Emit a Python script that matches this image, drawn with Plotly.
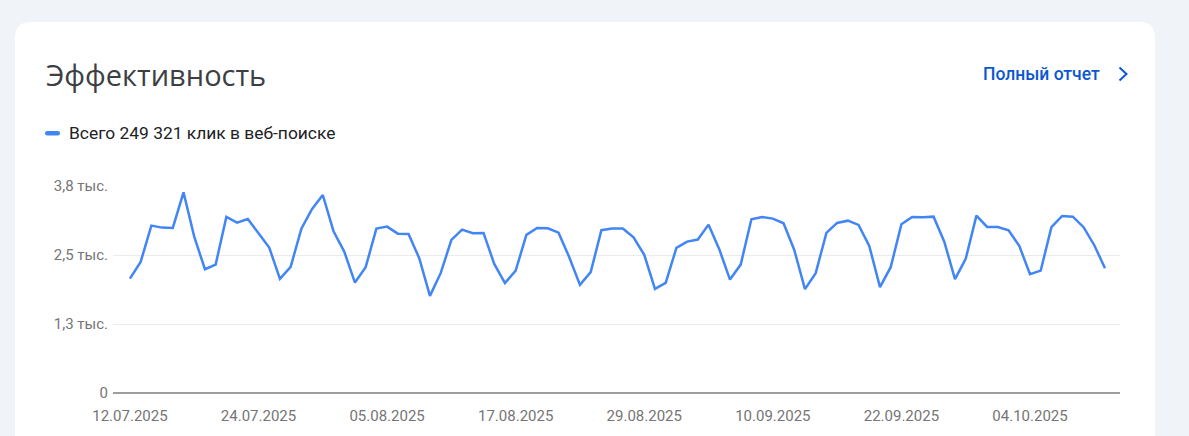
import plotly.graph_objects as go
import pandas as pd

# ---- data ----
start_date = "2025-07-12"
clicks = [
    2073, 2375, 3032, 2996, 2990, 3636, 2833, 2243, 2326, 3189,
    3086, 3153, 2894, 2634, 2068, 2285, 2978, 3334, 3587, 2931,
    2562, 2001, 2279, 2978, 3014, 2887, 2882, 2442, 1760, 2171,
    2773, 2960, 2894, 2900, 2339, 1990, 2218, 2864, 2990, 2985,
    2905, 2460, 1959, 2189, 2949, 2978, 2978, 2822, 2502, 1887,
    1995, 2628, 2742, 2779, 3050, 2605, 2055, 2326, 3148, 3189,
    3159, 3075, 2592, 1881, 2171, 2900, 3081, 3122, 3045, 2665,
    1917, 2279, 3057, 3189, 3184, 3195, 2742, 2062, 2429, 3213,
    3008, 3008, 2949, 2665, 2153, 2218, 3003, 3207, 3195, 3003,
    2677, 2261,
]
dates = pd.date_range(start_date, periods=len(clicks), freq="D")

x_tick_vals = ["2025-07-12", "2025-07-24", "2025-08-05", "2025-08-17",
               "2025-08-29", "2025-09-10", "2025-09-22", "2025-10-04"]
x_tick_text = ["12.07.2025", "24.07.2025", "05.08.2025", "17.08.2025",
               "29.08.2025", "10.09.2025", "22.09.2025", "04.10.2025"]
y_tick_vals = [0, 1250, 2500, 3750]
y_tick_text = ["0", "1,3 тыс.", "2,5 тыс.", "3,8 тыс."]

title_text = "Эффективность"
legend_text = "Всего 249 321 клик в веб-поиске"
link_text = "Полный отчет"

# ---- layout geometry ----
W, H = 1189, 436
L, R, T, B = 113, W - 1120, 186, H - 393
PW, PH = W - L - R, H - T - B


def px(xp):
    return (xp - L) / PW


def py(yp):
    return (H - B - yp) / PH


def rounded_rect(xa, ya, xb, yb, r, top_only=False):
    """Path (paper coords) for a rectangle given in pixels, rounded corners."""
    a, b, c, d = px(xa), px(xb), py(ya), py(yb)   # c = top, d = bottom
    rx, ry = r / PW, r / PH
    if top_only:
        return (f"M {a+rx} {c} L {b-rx} {c} Q {b} {c} {b} {c-ry} "
                f"L {b} {d} L {a} {d} L {a} {c-ry} Q {a} {c} {a+rx} {c} Z")
    return (f"M {a+rx} {c} L {b-rx} {c} Q {b} {c} {b} {c-ry} "
            f"L {b} {d+ry} Q {b} {d} {b-rx} {d} L {a+rx} {d} "
            f"Q {a} {d} {a} {d+ry} L {a} {c-ry} Q {a} {c} {a+rx} {c} Z")


fig = go.Figure()
fig.add_trace(go.Scatter(
    x=dates, y=clicks, mode="lines",
    line=dict(color="#4285f4", width=2.5),
    hoverinfo="x+y", showlegend=False,
))

shapes = [
    # white card
    dict(type="path", xref="paper", yref="paper",
         path=rounded_rect(15, 22, 1155, 470, 16, top_only=True),
         fillcolor="#ffffff", line=dict(width=0), layer="below"),
    # legend swatch (pill)
    dict(type="path", xref="paper", yref="paper",
         path=rounded_rect(45, 131, 60, 135.5, 2.2),
         fillcolor="#4285f4", line=dict(width=0)),
    # chevron
    dict(type="path", xref="paper", yref="paper",
         path=f"M {px(1119.5)} {py(67.5)} L {px(1126.5)} {py(74)} L {px(1119.5)} {py(80.5)}",
         line=dict(color="#0b57d0", width=2)),
]

annotations = [
    dict(text=title_text, xref="paper", yref="paper", x=px(44), y=py(74),
         xanchor="left", yanchor="middle", showarrow=False,
         font=dict(family="Open Sans", size=29, color="#3c4043")),
    dict(text=legend_text, xref="paper", yref="paper", x=px(67), y=py(133),
         xanchor="left", yanchor="middle", showarrow=False,
         font=dict(family="Roboto", size=17.4, color="#202124")),
    dict(text=link_text, xref="paper", yref="paper", x=px(1102), y=py(74),
         xanchor="right", yanchor="middle", showarrow=False,
         font=dict(family="Roboto", size=17.5, color="#0b57d0", weight=500)),
]

fig.update_layout(
    width=W, height=H,
    margin=dict(l=L, r=R, t=T, b=B, pad=0),
    paper_bgcolor="#f0f4f9", plot_bgcolor="rgba(0,0,0,0)",
    shapes=shapes, annotations=annotations,
    xaxis=dict(
        range=[dates[0] - pd.Timedelta(days=1.58), dates[-1] + pd.Timedelta(days=1.4)],
        tickvals=x_tick_vals, ticktext=x_tick_text,
        showgrid=False, zeroline=False, showline=False, ticks="",
        ticklabelstandoff=12,
        tickfont=dict(family="Roboto", size=15, color="#757575"),
    ),
    yaxis=dict(
        range=[0, 3750],
        tickvals=y_tick_vals, ticktext=y_tick_text,
        showgrid=True, gridcolor="#ebebeb", gridwidth=1,
        zeroline=True, zerolinecolor="#9e9e9e", zerolinewidth=2,
        showline=False, ticks="", ticklabelstandoff=4,
        tickfont=dict(family="Roboto", size=15, color="#757575"),
    ),
    font=dict(family="Roboto"),
)

fig.write_html(
    "out.html",
    config={"displayModeBar": False},
    post_script="document.body.style.margin='0';document.body.style.background='#f0f4f9';",
)
